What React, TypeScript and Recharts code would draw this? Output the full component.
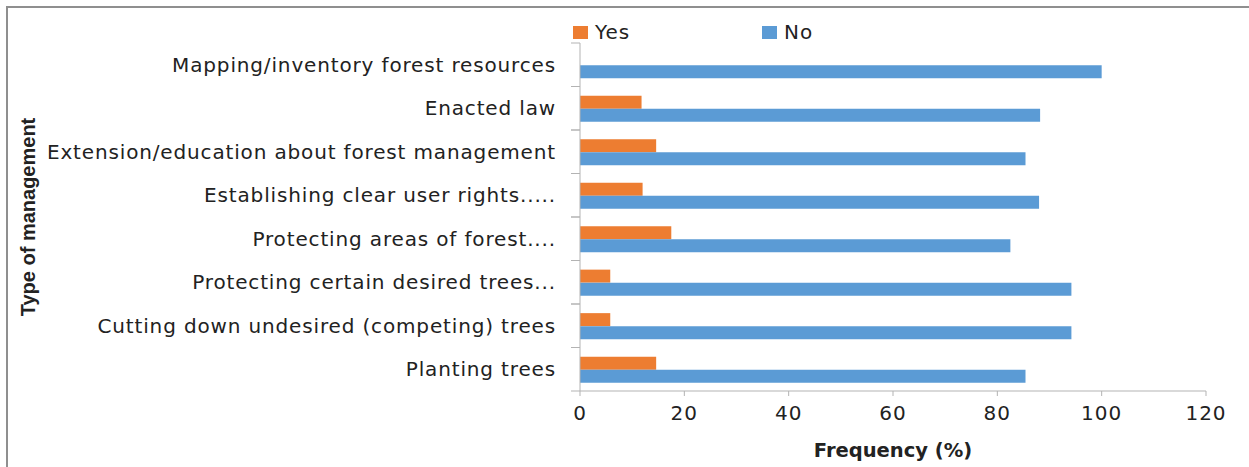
import { BarChart, Bar, XAxis, YAxis, Legend } from "recharts";

const categories = [
  "Mapping/inventory forest resources",
  "Enacted law",
  "Extension/education about forest management",
  "Establishing clear user rights.....",
  "Protecting areas of forest....",
  "Protecting certain desired trees...",
  "Cutting down undesired (competing) trees",
  "Planting trees",
];
const yesValues = [0, 11.8, 14.6, 12, 17.5, 5.8, 5.8, 14.6];
const noValues = [100, 88.2, 85.4, 88, 82.5, 94.2, 94.2, 85.4];
const seriesNames = ["Yes", "No"];
const xTicks = [0, 20, 40, 60, 80, 100, 120];

const ORANGE = "#ED7D31";
const BLUE = "#5B9BD5";
const AXIS = "#b3b3b3";
const TEXT = "#222";
const FONT = "'DejaVu Sans', 'Liberation Sans', sans-serif";
const TITLE_FONT = "'Liberation Sans', Arial, sans-serif";

const data = categories.map((name, i) => ({
  name,
  yes: yesValues[i],
  no: noValues[i],
}));

function LegendContent(props: any) {
  const items = [...(props.payload || [])].sort(
    (a: any, b: any) => seriesNames.indexOf(a.value) - seriesNames.indexOf(b.value)
  );
  return (
    <div
      style={{
        display: "flex",
        fontFamily: FONT,
        fontSize: 20,
        color: TEXT,
        lineHeight: "24px",
        letterSpacing: 1,
      }}
    >
      {items.map((it: any) => (
        <div key={it.value} style={{ display: "flex", alignItems: "center", width: 189 }}>
          <span
            style={{
              display: "inline-block",
              width: 15,
              height: 13,
              background: it.color,
              marginRight: 7,
            }}
          />
          {it.value}
        </div>
      ))}
    </div>
  );
}

// category label + Excel-style tick marks on the band boundaries
function CategoryTick(props: any) {
  const { x, y, payload } = props;
  const half = payload.offset || 0;
  return (
    <g>
      <line x1={580} x2={571} y1={y - half} y2={y - half} stroke={AXIS} />
      <line x1={580} x2={571} y1={y + half} y2={y + half} stroke={AXIS} />
      <text
        x={x}
        y={y}
        textAnchor="end"
        dominantBaseline="central"
        fontFamily={FONT}
        fontSize={20}
        letterSpacing={0.85}
        fill={TEXT}
      >
        {payload.value}
      </text>
    </g>
  );
}

function YTitle(props: any) {
  const vb = props.viewBox || {};
  const cy = vb.y + vb.height / 2;
  return (
    <text
      x={28}
      y={cy}
      transform={`rotate(-90, 28, ${cy})`}
      textAnchor="middle"
      dominantBaseline="central"
      fontFamily={TITLE_FONT}
      fontWeight="bold"
      fontSize={20}
      fill={TEXT}
    >
      Type of management
    </text>
  );
}

export default function App() {
  return (
    <div
      style={{
        position: "absolute",
        left: 0,
        top: 0,
        width: 1249,
        height: 467,
        background: "#fff",
        overflow: "hidden",
      }}
    >
      <div
        style={{
          position: "absolute",
          left: 6,
          top: 6,
          width: 1260,
          height: 480,
          borderTop: "2px solid #8f8f8f",
          borderLeft: "2px solid #8f8f8f",
        }}
      />
      <div style={{ position: "absolute", left: 0, top: 0 }}>
        <BarChart
          width={1249}
          height={467}
          data={data}
          layout="vertical"
          margin={{ top: 13, right: 43, bottom: 0, left: 0 }}
          barCategoryGap="21%"
          barGap={0}
        >
          <Legend
            verticalAlign="top"
            content={<LegendContent />}
            wrapperStyle={{ position: "absolute", top: 20, left: 573, width: 400, height: 30 }}
          />
          <XAxis
            type="number"
            domain={[0, 120]}
            ticks={xTicks}
            height={76}
            stroke={AXIS}
            tickSize={5}
            tickMargin={10}
            tick={{ fill: TEXT, fontSize: 20, fontFamily: FONT, letterSpacing: 1 }}
            label={{
              value: "Frequency (%)",
              position: "insideBottom",
              offset: 10,
              fill: TEXT,
              fontSize: 19.5,
              fontWeight: "bold",
              fontFamily: FONT,
            }}
          />
          <YAxis
            type="category"
            dataKey="name"
            width={580}
            stroke={AXIS}
            tickLine={false}
            tickSize={0}
            tickMargin={24}
            interval={0}
            tick={<CategoryTick />}
            label={<YTitle />}
          />
          <Bar dataKey="yes" name="Yes" fill={ORANGE} isAnimationActive={false} />
          <Bar dataKey="no" name="No" fill={BLUE} isAnimationActive={false} />
        </BarChart>
      </div>
    </div>
  );
}
